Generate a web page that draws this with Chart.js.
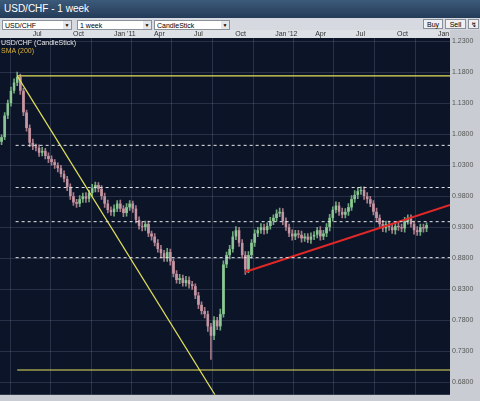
<!DOCTYPE html>
<html>
<head>
<meta charset="utf-8">
<script src="https://cdn.jsdelivr.net/npm/chart.js@4"></script>
<style>
  body { margin: 0; width: 480px; height: 401px; overflow: hidden; background: #c9cdd3; font-family: "Liberation Sans", Arial, sans-serif; }
  #title { position: absolute; left: 0; top: 0; width: 480px; height: 18px; background: linear-gradient(#3c5a7a, #243c58); color: #fff; font-size: 10px; line-height: 17px; padding-left: 4px; box-sizing: border-box; }
  #bar { position: absolute; left: 0; top: 18px; width: 480px; height: 12px; background: #d6dae0; }
  .dd { position: absolute; top: 2px; background: #fff; border: 1px solid #8a9099; font-size: 7px; line-height: 9px; padding-left: 2px; box-sizing: border-box; height: 10px; }
  .dd b { position: absolute; right: 0; top: 0; width: 8px; height: 8px; background: #e4e6ea; font-size: 5px; text-align: center; }
  .btn { position: absolute; top: 1px; height: 10px; background: #eef0f3; border: 1px solid #8a9099; font-size: 7px; line-height: 9px; text-align: center; box-sizing: border-box; }
  #wrap { position: absolute; left: 0; top: 30px; width: 480px; height: 371px; }
  .leg { position: absolute; left: 1px; font-size: 7px; }
</style>
</head>
<body>
<div id="title">USD/CHF - 1 week</div>
<div id="bar">
  <div class="dd" style="left:2px;width:70px">USD/CHF<b>▼</b></div>
  <div class="dd" style="left:77px;width:75px">1 week<b>▼</b></div>
  <div class="dd" style="left:154px;width:76px">CandleStick<b>▼</b></div>
  <div class="btn" style="left:423px;width:20px">Buy</div>
  <div class="btn" style="left:445px;width:21px">Sell</div>
  <div class="btn" style="left:468px;width:11px">↯</div>
</div>
<div id="wrap"><canvas id="chart" width="480" height="371"></canvas></div>
<div class="leg" style="top:39px;color:#e8e8e8">USD/CHF (CandleStick)</div>
<div class="leg" style="top:47px;color:#d9b23a">SMA (200)</div>
<script>
// weekly closes, mid Apr 2010 .. Nov 2012
const closes = [
  1.075, 1.110, 1.130, 1.150, 1.163, 1.172, 1.150, 1.115, 1.090, 1.066,
  1.060, 1.058, 1.050, 1.053, 1.045, 1.040, 1.035, 1.030, 1.025, 1.016,
  1.008, 0.995, 0.980, 0.970, 0.968, 0.975, 0.980, 0.976, 0.985, 0.993,
  0.998, 0.992, 0.980, 0.968, 0.958, 0.954, 0.960, 0.968, 0.960, 0.953,
  0.962, 0.968, 0.960, 0.942, 0.932, 0.930, 0.935, 0.920, 0.915, 0.905,
  0.895, 0.888, 0.880, 0.890, 0.875, 0.855, 0.845, 0.848, 0.840, 0.845,
  0.838, 0.835, 0.820, 0.805, 0.795, 0.790, 0.770, 0.755, 0.780, 0.770,
  0.790, 0.870, 0.885, 0.895, 0.915, 0.925, 0.905, 0.885, 0.862, 0.885,
  0.905, 0.920, 0.925, 0.930, 0.925, 0.932, 0.940, 0.945, 0.952, 0.955,
  0.940, 0.930, 0.920, 0.915, 0.920, 0.918, 0.912, 0.915, 0.910, 0.915,
  0.918, 0.925, 0.915, 0.920, 0.930, 0.945, 0.958, 0.965, 0.955, 0.950,
  0.955, 0.962, 0.975, 0.982, 0.988, 0.990, 0.980, 0.975, 0.968, 0.955,
  0.945, 0.935, 0.928, 0.935, 0.930, 0.925, 0.932, 0.930, 0.928, 0.940,
  0.945, 0.935, 0.925, 0.922, 0.930, 0.928, 0.933
];
const firstOpen = 1.068;
// wick lengths above / below the body, in thousandths
const wickUp = [
  4, 5, 5, 6, 6, 8, 5, 4, 4, 5, 6, 4, 5, 6, 4, 5, 5, 4, 4, 5,
  5, 4, 5, 6, 5, 6, 5, 6, 5, 6, 5, 4, 5, 5, 6, 5, 6, 5, 6, 5,
  6, 5, 4, 5, 5, 6, 5, 5, 4, 5, 5, 6, 5, 6, 5, 4, 5, 6, 5, 6,
  5, 5, 4, 5, 5, 6, 5, 5, 6, 5, 8, 6, 5, 6, 8, 6, 5, 5, 6, 6,
  5, 6, 5, 6, 5, 5, 6, 5, 6, 6, 5, 5, 5, 6, 5, 5, 6, 5, 5, 6,
  5, 5, 6, 5, 6, 6, 5, 6, 5, 6, 5, 6, 6, 7, 6, 5, 5, 6, 5, 5,
  6, 5, 6, 5, 5, 6, 5, 6, 5, 6, 5, 5, 5, 6, 5, 5, 4
];
const wickDown = [
  5, 4, 5, 5, 4, 5, 6, 5, 5, 6, 5, 5, 6, 5, 5, 6, 5, 5, 6, 5,
  5, 6, 5, 5, 6, 5, 5, 6, 5, 5, 6, 5, 5, 6, 5, 5, 6, 5, 5, 6,
  5, 5, 6, 5, 5, 6, 5, 5, 6, 5, 5, 6, 5, 5, 6, 5, 5, 6, 5, 5,
  6, 5, 5, 6, 5, 6, 8, 38, 6, 5, 6, 5, 5, 6, 5, 5, 6, 5, 8, 5,
  5, 6, 5, 5, 6, 5, 5, 6, 5, 5, 6, 5, 5, 6, 5, 5, 6, 5, 5, 6,
  5, 5, 6, 5, 5, 6, 5, 5, 6, 5, 5, 6, 5, 5, 6, 5, 5, 6, 5, 5,
  6, 5, 5, 6, 5, 5, 6, 5, 5, 6, 5, 5, 6, 5, 5, 6, 5
];
const weeksShown = 144;
const monthLabels = ["Jul", "Oct", "Jan '11", "Apr", "Jul", "Oct", "Jan '12", "Apr", "Jul", "Oct", "Jan"];
const monthWeeks = [9.8, 22.7, 35.8, 48.6, 61.4, 74.6, 87.4, 100.2, 113.3, 126.4, 139.5];
const priceTicks = [0.68, 0.73, 0.78, 0.83, 0.88, 0.93, 0.98, 1.03, 1.08, 1.13, 1.18, 1.23];
// drawn studies
const resistLevels = [1.174, 0.700];
const dottedLevels = [1.062, 0.994, 0.939, 0.881];
const trendDown = [[5.5, 1.174], [68.8, 0.660]];
const trendUp = [[78.4, 0.858], [144, 0.966]];

const bodies = [], wicks = [], colors = [], fills = [];
closes.forEach((c, i) => {
  const o = i === 0 ? firstOpen : closes[i - 1];
  const up = c >= o;
  bodies.push({ x: i + 0.5, y: [o, c] });
  wicks.push({ x: i + 0.5, y: [Math.min(o, c) - wickDown[i] / 1000, Math.max(o, c) + wickUp[i] / 1000] });
  colors.push(up ? "#6fa878" : "#a87a88");
  fills.push(up ? "#8fc697" : "#c497a4");
});

const lineSet = (pts, color, dash, width) => ({
  type: "line", data: pts.map(p => ({ x: p[0], y: p[1] })), borderColor: color,
  borderWidth: width, borderDash: dash, pointRadius: 0, fill: false, order: 0
});

const datasets = [
  { type: "bar", data: wicks, backgroundColor: colors, barThickness: 1, grouped: false, order: 2 },
  { type: "bar", data: bodies, backgroundColor: fills, borderColor: colors, borderWidth: 0.5, barThickness: 2.4, grouped: false, order: 1 },
];
resistLevels.forEach(v => datasets.push(lineSet([[5.5, v], [weeksShown, v]], "#e3e05a", [], 1.2)));
dottedLevels.forEach(v => datasets.push(lineSet([[5, v], [weeksShown, v]], "#e8e8e8", [3, 3], 1)));
datasets.push(lineSet(trendDown, "#e3e05a", [], 1.2));
datasets.push(lineSet(trendUp, "#e02828", [], 2));

const bgPlugin = {
  id: "bg",
  beforeDraw(chart) {
    const { ctx, chartArea: a } = chart;
    ctx.save();
    ctx.fillStyle = "#c9cdd3";
    ctx.fillRect(0, 0, chart.width, chart.height);
    ctx.fillStyle = "#dde0e5";
    ctx.fillRect(0, 0, a.right, a.top);
    ctx.fillStyle = "#0c1428";
    ctx.fillRect(a.left, a.top, a.right - a.left, a.bottom - a.top);
    ctx.restore();
  }
};

new Chart(document.getElementById("chart"), {
  type: "bar",
  data: { datasets },
  plugins: [bgPlugin],
  options: {
    responsive: false, animation: false, maintainAspectRatio: false,
    layout: { padding: 0 },
    plugins: { legend: { display: false }, tooltip: { enabled: false } },
    scales: {
      x: {
        type: "linear", position: "top", min: 0, max: weeksShown, offset: false,
        afterBuildTicks: s => { s.ticks = monthWeeks.map(v => ({ value: v })); },
        afterFit: s => { s.height = 8; },
        ticks: { autoSkip: false, maxRotation: 0, align: "start", padding: 0, labelOffset: 2, color: "#333", font: { size: 7 },
          callback: (v, i) => monthLabels[i] },
        grid: { color: "rgba(150,160,190,0.22)", drawTicks: false },
        border: { display: false }
      },
      y: {
        position: "right", min: 0.660, max: 1.235,
        afterBuildTicks: s => { s.ticks = priceTicks.map(v => ({ value: v })); },
        afterFit: s => { s.width = 30; },
        ticks: { color: "#555", font: { size: 7 }, padding: 2, callback: v => v.toFixed(4) },
        grid: { color: "rgba(150,160,190,0.2)", drawTicks: false },
        border: { display: false }
      }
    }
  }
});
</script>
</body>
</html>
